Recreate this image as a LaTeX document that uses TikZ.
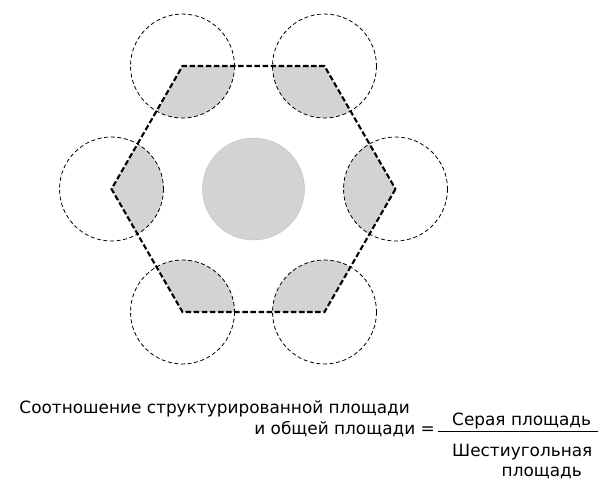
\documentclass[tikz,border=0pt]{standalone}
\usepackage{fontspec}
\setmainfont{DejaVu Sans}
\usetikzlibrary{calc}
\begin{document}
\begin{tikzpicture}[x=1pt,y=-1pt,
  shade/.style={fill={rgb,255:red,209;green,211;blue,212}},
  thincirc/.style={draw=black,line width=0.8pt,dash pattern=on 4pt off 2.6pt},
  hexline/.style={draw=black,line width=2.1pt,dash pattern=on 5.5pt off 2.6pt,line join=miter},
  txt/.style={inner sep=0pt,font=\fontsize{16.9}{19}\selectfont}]
\useasboundingbox (0,0) rectangle (599,482);
\coordinate (c) at (253.5,189);
\foreach \i/\a in {1/0,2/60,3/120,4/180,5/240,6/300}
  \coordinate (v\i) at ($(c)+(\a:142)$);
% shaded parts
\begin{scope}
  \clip (v1) -- (v2) -- (v3) -- (v4) -- (v5) -- (v6) -- cycle;
  \foreach \i in {1,...,6} \fill[shade] (v\i) circle[radius=52];
\end{scope}
\fill[shade] (c) circle[radius=51];
\draw[line width=0.4pt,draw={rgb,255:red,190;green,192;blue,194}] (c) circle[radius=51];
% dashed circles
\foreach \i in {1,...,6} \draw[thincirc] (v\i) circle[radius=52];
% hexagon
\draw[hexline] (v1) -- (v2) -- (v3) -- (v4) -- (v5) -- (v6) -- cycle;
% text
\node[txt,anchor=base east] (l1) at (410,413) {Соотношение структурированной площади};
\node[txt,anchor=base east] (l2) at (435,434) {и общей площади =};
\node[txt,anchor=base west] (num) at (452,425) {Серая площадь};
\coordinate (b1) at (438,431);
\coordinate (b2) at (598,431);
\draw[line width=0.7pt] (b1) -- (b2);
\node[txt,anchor=base west] (d1) at (452,456) {Шестиугольная};
\node[txt,anchor=base east] (d2) at (582,476) {площадь};
\end{tikzpicture}
\end{document}
